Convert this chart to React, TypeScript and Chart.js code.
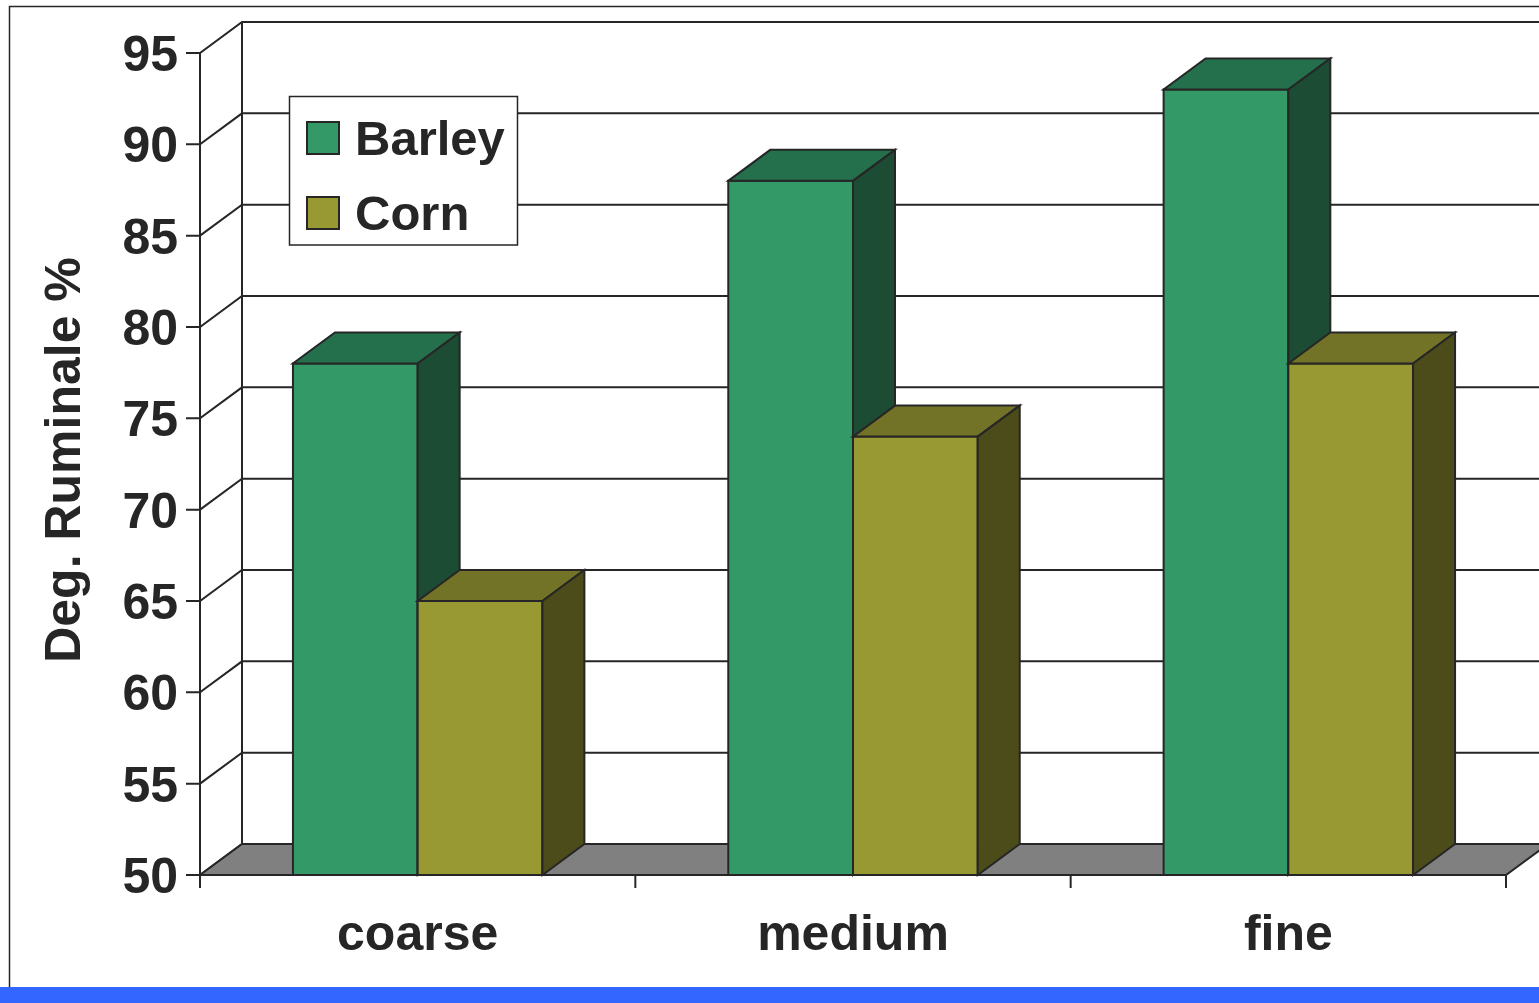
import React, { useEffect, useRef } from "react";
import { Chart, registerables } from "chart.js";

Chart.register(...registerables);

// Data
const categories = ["coarse", "medium", "fine"];
const seriesNames = ["Barley", "Corn"];
const barleyValues = [78, 88, 93];
const cornValues = [65, 74, 78];
const valueTicks = [50, 55, 60, 65, 70, 75, 80, 85, 90, 95];
const axisTitle = "Deg. Ruminale %";

// Face shades per series: front, top, side
const barleyShades = ["#339966", "#24704c", "#1c4c33"];
const cornShades = ["#999933", "#737328", "#4c4c1a"];

const W = 1539;
const H = 1003;
const DEPTH_X = 42;
const DEPTH_Y = -31;
const INK = "#262626";
const FONT = "'Liberation Sans', Arial, Helvetica, sans-serif";

const threeDPlugin = {
  id: "threeD",
  beforeDraw(chart: any) {
    const ctx = chart.ctx as CanvasRenderingContext2D;
    ctx.save();
    ctx.fillStyle = "#ffffff";
    ctx.fillRect(0, 0, W, H);
    // outer frame
    ctx.strokeStyle = INK;
    ctx.lineWidth = 1.5;
    ctx.beginPath();
    ctx.moveTo(9.5, 990);
    ctx.lineTo(9.5, 6.5);
    ctx.lineTo(W + 2, 6.5);
    ctx.stroke();
    // bottom band
    ctx.fillStyle = "#3366ff";
    ctx.fillRect(0, 987, W, H - 987);
    ctx.restore();
  },
  beforeDatasetsDraw(chart: any) {
    const ctx = chart.ctx as CanvasRenderingContext2D;
    const xs = chart.scales.x;
    const ys = chart.scales.y;
    const area = chart.chartArea;
    const left = area.left;
    const right = area.right;
    const bottom = ys.getPixelForValue(valueTicks[0]);
    const top = ys.getPixelForValue(valueTicks[valueTicks.length - 1]);

    ctx.save();
    ctx.lineJoin = "miter";
    ctx.lineCap = "butt";
    ctx.strokeStyle = INK;
    ctx.lineWidth = 2;

    // back wall edge
    ctx.beginPath();
    ctx.moveTo(left + DEPTH_X, top + DEPTH_Y);
    ctx.lineTo(left + DEPTH_X, bottom + DEPTH_Y);
    ctx.stroke();

    // gridlines: tick, side wall diagonal, back wall horizontal
    valueTicks.forEach((v) => {
      const py = ys.getPixelForValue(v);
      ctx.beginPath();
      ctx.moveTo(left - 14, py);
      ctx.lineTo(left, py);
      ctx.lineTo(left + DEPTH_X, py + DEPTH_Y);
      ctx.lineTo(W + 10, py + DEPTH_Y);
      ctx.stroke();
    });

    // floor
    ctx.beginPath();
    ctx.moveTo(left, bottom);
    ctx.lineTo(right, bottom);
    ctx.lineTo(right + DEPTH_X, bottom + DEPTH_Y);
    ctx.lineTo(left + DEPTH_X, bottom + DEPTH_Y);
    ctx.closePath();
    ctx.fillStyle = "#808080";
    ctx.fill();
    ctx.stroke();

    // front value axis
    ctx.beginPath();
    ctx.moveTo(left, top);
    ctx.lineTo(left, bottom + 13);
    ctx.stroke();

    // category ticks
    const catW = (right - left) / categories.length;
    for (let i = 0; i <= categories.length; i++) {
      const px = left + i * catW;
      ctx.beginPath();
      ctx.moveTo(px, bottom);
      ctx.lineTo(px, bottom + 13);
      ctx.stroke();
    }

    // bars (front, top and side faces), left to right so later faces overlap earlier sides
    const shades = [barleyShades, cornShades];
    categories.forEach((_, i) => {
      chart.data.datasets.forEach((_ds: any, d: number) => {
        const el = chart.getDatasetMeta(d).data[i] as any;
        const xL = el.x - el.width / 2;
        const xR = el.x + el.width / 2;
        const yT = el.y;
        const yB = Math.min(el.base, bottom);
        const [front, topC, side] = shades[d];

        ctx.fillStyle = front;
        ctx.beginPath();
        ctx.rect(xL, yT, xR - xL, yB - yT);
        ctx.fill();
        ctx.stroke();

        ctx.fillStyle = topC;
        ctx.beginPath();
        ctx.moveTo(xL, yT);
        ctx.lineTo(xR, yT);
        ctx.lineTo(xR + DEPTH_X, yT + DEPTH_Y);
        ctx.lineTo(xL + DEPTH_X, yT + DEPTH_Y);
        ctx.closePath();
        ctx.fill();
        ctx.stroke();

        ctx.fillStyle = side;
        ctx.beginPath();
        ctx.moveTo(xR, yT);
        ctx.lineTo(xR + DEPTH_X, yT + DEPTH_Y);
        ctx.lineTo(xR + DEPTH_X, yB + DEPTH_Y);
        ctx.lineTo(xR, yB);
        ctx.closePath();
        ctx.fill();
        ctx.stroke();
      });
    });

    // value labels
    ctx.fillStyle = INK;
    ctx.font = `bold 50px ${FONT}`;
    ctx.textAlign = "right";
    ctx.textBaseline = "alphabetic";
    valueTicks.forEach((v) => {
      const py = ys.getPixelForValue(v);
      ctx.fillText(String(v), left - 22, py + 18);
    });

    // category labels
    ctx.textAlign = "center";
    categories.forEach((c, i) => {
      ctx.fillText(c, xs.getPixelForValue(i), 950);
    });

    // axis title
    ctx.save();
    ctx.translate(80, 460);
    ctx.rotate(-Math.PI / 2);
    ctx.textAlign = "center";
    ctx.font = `bold 50px ${FONT}`;
    ctx.fillText(axisTitle, 0, 0);
    ctx.restore();

    // legend
    ctx.lineWidth = 1.5;
    ctx.fillStyle = "#ffffff";
    ctx.beginPath();
    ctx.rect(289.5, 96.5, 228, 148.5);
    ctx.fill();
    ctx.stroke();
    ctx.font = `bold 49px ${FONT}`;
    ctx.textAlign = "left";
    seriesNames.forEach((name, k) => {
      const sy = 122 + k * 75;
      ctx.fillStyle = shades[k][0];
      ctx.lineWidth = 2;
      ctx.beginPath();
      ctx.rect(307, sy, 32, 32);
      ctx.fill();
      ctx.stroke();
      ctx.fillStyle = INK;
      ctx.fillText(name, 355, sy + 33);
    });

    ctx.restore();
    return false;
  },
};

export default function App() {
  const canvasRef = useRef<HTMLCanvasElement | null>(null);

  useEffect(() => {
    if (!canvasRef.current) return;
    const chart = new Chart(canvasRef.current, {
      type: "bar",
      data: {
        labels: categories,
        datasets: [
          { label: seriesNames[0], data: barleyValues, backgroundColor: barleyShades[0] },
          { label: seriesNames[1], data: cornValues, backgroundColor: cornShades[0] },
        ],
      },
      options: {
        animation: false,
        responsive: false,
        devicePixelRatio: 1,
        layout: { padding: { left: 200, right: 33, top: 53, bottom: 128 } },
        datasets: { bar: { categoryPercentage: 0.573, barPercentage: 1.0 } },
        scales: {
          x: { display: false },
          y: { display: false, min: 50, max: 95 },
        },
        plugins: {
          legend: { display: false },
          tooltip: { enabled: false },
          title: { display: false },
        },
      },
      plugins: [threeDPlugin],
    });
    return () => chart.destroy();
  }, []);

  return (
    <div style={{ position: "absolute", left: 0, top: 0, width: W, height: H, overflow: "hidden" }}>
      <canvas ref={canvasRef} width={W} height={H} style={{ display: "block" }} />
    </div>
  );
}
